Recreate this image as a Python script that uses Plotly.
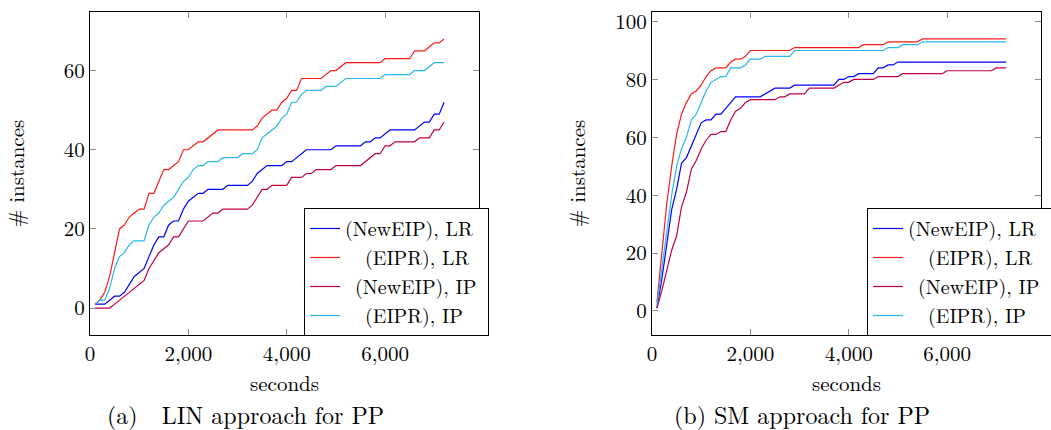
import plotly.graph_objects as go

# ---------------- data: (a) LIN approach for PP ----------------
lin_newEIP_LR_x = [100,300,500,600,700,800,900,1000,1100,1200,1300,1400,1500,1600,1700,1800,1900,2000,2100,2200,2300,2400,2700,2800,3200,3300,3400,3500,3600,3900,4000,4100,4200,4300,4400,4900,5000,5500,5600,5700,5800,5900,6000,6100,6600,6700,6800,6900,7000,7100,7200]
lin_newEIP_LR_y = [1,1,3,3,4,6,8,9,10,13,16,18,18,21,22,22,25,27,28,29,29,30,30,31,31,32,34,35,36,36,37,37,38,39,40,40,41,41,42,42,43,43,44,45,45,46,47,47,49,49,52]

lin_EIPR_LR_x = [100,200,300,400,500,600,700,800,900,1000,1100,1200,1300,1400,1500,1600,1700,1800,1900,2000,2100,2200,2300,2400,2500,2600,3300,3400,3500,3600,3700,3800,3900,4000,4100,4200,4300,4700,4800,4900,5000,5100,5200,5900,6000,6500,6600,6800,6900,7000,7100,7200]
lin_EIPR_LR_y = [1,2,4,8,14,20,21,23,24,25,25,29,29,32,35,35,36,37,40,40,41,42,42,43,44,45,45,46,48,49,50,50,52,53,55,55,58,58,59,60,60,61,62,62,63,63,65,65,66,67,67,68]

lin_newEIP_IP_x = [100,400,500,600,700,800,900,1000,1100,1200,1300,1400,1500,1600,1700,1800,1900,2000,2300,2400,2500,2600,2700,3200,3300,3400,3500,3600,3700,4000,4100,4300,4400,4500,4600,4900,5000,5500,5600,5700,5800,5900,6000,6100,6200,6600,6700,6900,7000,7100,7200]
lin_newEIP_IP_y = [0,0,1,2,3,4,5,6,7,10,12,14,15,16,18,18,20,22,22,23,24,24,25,25,26,28,30,30,31,31,33,33,34,34,35,35,36,36,37,38,39,39,41,41,42,42,43,43,45,45,47]

lin_EIPR_IP_x = [100,200,300,400,500,600,700,800,900,1100,1200,1300,1400,1500,1600,1700,1800,1900,2000,2100,2200,2300,2400,2600,2700,3000,3100,3300,3400,3500,3600,3700,3800,3900,4000,4100,4200,4300,4400,4700,4800,5000,5100,5200,5900,6000,6500,6600,6800,7000,7200]
lin_EIPR_IP_y = [1,2,2,5,10,13,14,16,17,17,21,23,24,26,27,28,30,32,33,35,36,36,37,37,38,38,39,39,40,43,44,45,46,48,49,52,52,54,55,55,56,56,57,58,58,59,59,60,60,62,62]

# ---------------- data: (b) SM approach for PP ----------------
sm_newEIP_LR_x = [100,200,300,400,500,600,700,800,900,1000,1100,1200,1300,1400,1500,1600,1700,2200,2300,2400,2500,2800,2900,3700,3800,3900,4000,4100,4200,4500,4600,4700,4800,4900,5000,7200]
sm_newEIP_LR_y = [1,11,23,35,42,51,53,57,61,65,66,66,68,68,70,72,74,74,75,76,77,77,78,78,80,80,81,81,82,82,84,84,85,85,86,86]

sm_EIPR_LR_x = [100,200,300,400,500,600,700,800,900,1000,1100,1200,1300,1500,1600,1700,1800,1900,2000,2800,2900,4200,4300,4700,4800,5400,5500,7200]
sm_EIPR_LR_y = [3,20,37,50,61,68,72,75,76,78,81,83,84,84,86,87,87,88,90,90,91,91,92,92,93,93,94,94]

sm_newEIP_IP_x = [100,200,300,400,500,600,700,800,900,1000,1100,1200,1300,1400,1500,1600,1700,1800,1900,2000,2500,2600,2700,2800,3100,3200,3700,3800,3900,4000,4100,4500,4600,5000,5100,5900,6000,6900,7000,7200]
sm_newEIP_IP_y = [1,7,14,21,26,36,41,49,52,56,59,61,61,62,62,66,69,70,72,73,73,74,74,75,75,77,77,78,79,79,80,80,81,81,82,82,83,83,84,84]

sm_EIPR_IP_x = [100,200,300,400,500,600,700,800,900,1000,1100,1200,1300,1400,1500,1600,1800,1900,2000,2200,2300,2800,2900,4700,4800,5000,5100,5400,5500,7200]
sm_EIPR_IP_y = [2,15,28,40,50,56,60,66,68,72,76,79,80,81,81,84,84,85,87,87,88,88,90,90,91,91,92,92,93,93]

series_names = ["(NewEIP), LR", "(EIPR), LR", "(NewEIP), IP", "(EIPR), IP"]
legend_labels = ["(NewEIP), LR\u00a0", "\u00a0\u00a0(EIPR), LR", "\u00a0(NewEIP), IP", "\u00a0\u00a0(EIPR), IP"]
colors = ["#0000ff", "#ff1a1a", "#c0004a", "#28b8ee"]

x_ticks = [0, 2000, 4000, 6000]
x_tick_text = ["0", "2,000", "4,000", "6,000"]
captions = ["(a)\u00a0\u00a0LIN approach for PP", "(b) SM approach for PP"]

FONT = "Latin Modern Roman"
FS = 21
LFS = 20
W, H = 1051, 430

fig = go.Figure()

lin = [(lin_newEIP_LR_x, lin_newEIP_LR_y), (lin_EIPR_LR_x, lin_EIPR_LR_y),
       (lin_newEIP_IP_x, lin_newEIP_IP_y), (lin_EIPR_IP_x, lin_EIPR_IP_y)]
sm = [(sm_newEIP_LR_x, sm_newEIP_LR_y), (sm_EIPR_LR_x, sm_EIPR_LR_y),
      (sm_newEIP_IP_x, sm_newEIP_IP_y), (sm_EIPR_IP_x, sm_EIPR_IP_y)]

for i, (x, y) in enumerate(lin):
    fig.add_trace(go.Scatter(x=x, y=y, mode="lines", name=legend_labels[i],
                             line=dict(color=colors[i], width=1.2),
                             xaxis="x", yaxis="y", legend="legend"))
for i, (x, y) in enumerate(sm):
    fig.add_trace(go.Scatter(x=x, y=y, mode="lines", name=legend_labels[i],
                             line=dict(color=colors[i], width=1.2),
                             xaxis="x2", yaxis="y2", legend="legend2"))

def px_x(p):
    return p / W

def px_y(p):
    return 1 - p / H

axis_common = dict(showline=True, linecolor="black", linewidth=1, mirror="ticks",
                   ticks="inside", ticklen=6, tickcolor="#8c8c8c", tickwidth=1,
                   showgrid=False, zeroline=False,
                   tickfont=dict(family=FONT, size=FS, color="black"))

ydom = [px_y(335), px_y(12)]
fig.update_layout(
    width=W, height=H,
    margin=dict(l=0, r=0, t=0, b=0, autoexpand=False),
    paper_bgcolor="white", plot_bgcolor="white",
    font=dict(family=FONT, size=FS, color="black"),
    xaxis=dict(domain=[px_x(90), px_x(479)], range=[0, 7910], anchor="y",
               tickvals=x_ticks, ticktext=x_tick_text,
               title=dict(text="seconds", font=dict(family=FONT, size=FS), standoff=4),
               **axis_common),
    yaxis=dict(domain=ydom, range=[-6.8, 74.8], anchor="x", dtick=20, tick0=0,
               title=dict(text="# instances", font=dict(family=FONT, size=FS), standoff=33),
               **axis_common),
    xaxis2=dict(domain=[px_x(652), px_x(1041)], range=[0, 7910], anchor="y2",
                tickvals=x_ticks, ticktext=x_tick_text,
                title=dict(text="seconds", font=dict(family=FONT, size=FS), standoff=4),
                **axis_common),
    yaxis2=dict(domain=ydom, range=[-8.3, 103.3], anchor="x2", dtick=20, tick0=0,
                title=dict(text="# instances", font=dict(family=FONT, size=FS), standoff=23),
                **axis_common),
    legend=dict(x=px_x(304), y=px_y(336), xanchor="left", yanchor="bottom",
                bgcolor="white", bordercolor="black", borderwidth=1,
                font=dict(family=FONT, size=LFS, color="black"),
                itemwidth=30, tracegroupgap=0),
    legend2=dict(x=px_x(867), y=px_y(336), xanchor="left", yanchor="bottom",
                 bgcolor="white", bordercolor="black", borderwidth=1,
                 font=dict(family=FONT, size=LFS, color="black"),
                 itemwidth=30, tracegroupgap=0),
    showlegend=True,
)

fig.add_annotation(text=captions[0], x=px_x(245), y=px_y(413.5), xref="paper", yref="paper",
                   showarrow=False, font=dict(family=FONT, size=24, color="black"),
                   xanchor="center", yanchor="middle")
fig.add_annotation(text=captions[1], x=px_x(802), y=px_y(413.5), xref="paper", yref="paper",
                   showarrow=False, font=dict(family=FONT, size=24, color="black"),
                   xanchor="center", yanchor="middle")

fig.write_html("out.html")
